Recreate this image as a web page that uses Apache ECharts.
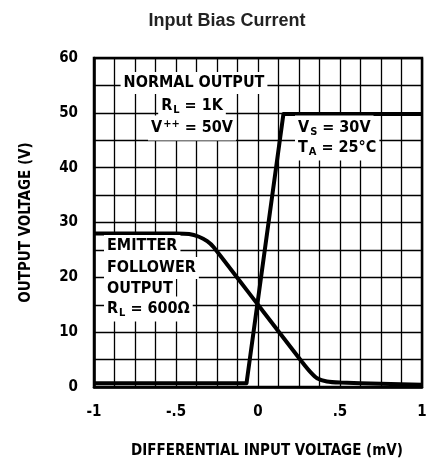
<!DOCTYPE html>
<html>
<head>
<meta charset="utf-8">
<script src="https://cdn.jsdelivr.net/npm/echarts@6/dist/echarts.min.js"></script>
<style>
html,body{margin:0;padding:0;background:#fff;}
#c{width:432px;height:464px;}
</style>
</head>
<body>
<div id="c"></div>
<script>
// Data
var titleText = 'Input Bias Current';
var xAxisName = 'DIFFERENTIAL INPUT VOLTAGE (mV)';
var yAxisName = 'OUTPUT VOLTAGE (V)';
var xTicks = [-1, -0.5, 0, 0.5, 1];
var yTicks = [0, 10, 20, 30, 40, 50, 60];

var normalX = [-1, -0.5, -0.07, 0.155, 0.5, 1];
var normalY = [0.7, 0.7, 0.7, 49.8, 49.8, 49.8];

var emitterX = [-1, -0.5, -0.42, -0.36, -0.31, -0.27, 0, 0.27, 0.32, 0.36, 0.42, 0.5, 0.75, 1];
var emitterY = [28, 28, 27.9, 27.4, 26.6, 25.5, 15, 4.5, 2.7, 1.6, 1.0, 0.8, 0.6, 0.4];

function pairs(xs, ys){ return xs.map(function(x,i){ return [x, ys[i]]; }); }

var FONT = "'DejaVu Sans Condensed', 'DejaVu Sans', sans-serif";

function fmtX(v){
  if (v === 0) return '0';
  var s = String(Math.abs(v)).replace(/^0\./, '.');
  return (v < 0 ? '-' : '') + s;
}

var chart = echarts.init(document.getElementById('c'), null, {renderer:'canvas'});

var annoRich = {
  sub: {fontSize: 11, fontWeight: 'bold', fontFamily: FONT, color: '#000', verticalAlign: 'bottom', padding: [8,0,0,1]},
  sup: {fontSize: 11, fontWeight: 'bold', fontFamily: FONT, color: '#000', verticalAlign: 'top', padding: [0,0,8,1]}
};

function anno(text, x, y, align){
  return {
    type: 'text', x: x, y: y, z: 50,
    style: {
      text: text,
      font: 'bold 16px ' + FONT,
      fill: '#000',
      align: align || 'center',
      verticalAlign: 'middle',
      backgroundColor: '#fff',
      padding: [3, 3, 3, 3],
      rich: annoRich
    }
  };
}

var option = {
  animation: false,
  backgroundColor: '#fff',
  title: {
    text: titleText,
    left: 222, top: 7, textAlign: 'center',
    textStyle: {fontFamily: "'Liberation Sans', Arial, sans-serif", fontWeight: 'bold', fontSize: 18, color: '#222'}
  },
  grid: {left: 94, top: 58, width: 328, height: 330, show: true, borderColor: '#000', borderWidth: 2.5, backgroundColor: 'transparent'},
  xAxis: {
    type: 'value', min: -1, max: 1, interval: 0.5,
    name: xAxisName, nameLocation: 'middle', nameGap: 57,
    nameTextStyle: {fontFamily: FONT, fontWeight: 'bold', fontSize: 15, color: '#000', padding: [0, 0, 0, 18]},
    axisLine: {show: true, onZero: false, lineStyle: {color: '#000', width: 2.5}},
    axisTick: {show: false},
    axisLabel: {fontFamily: FONT, fontWeight: 'bold', fontSize: 15, color: '#000', margin: 18, formatter: fmtX},
    splitLine: {show: true, lineStyle: {color: '#000', width: 1.3}},
    minorTick: {show: false, splitNumber: 4},
    minorSplitLine: {show: true, lineStyle: {color: '#000', width: 1.3}}
  },
  yAxis: {
    type: 'value', min: 0, max: 60, interval: 10,
    name: yAxisName, nameLocation: 'middle', nameGap: 60, nameRotate: 90,
    nameTextStyle: {fontFamily: FONT, fontWeight: 'bold', fontSize: 15, color: '#000'},
    axisLine: {show: true, onZero: false, lineStyle: {color: '#000', width: 2.5}},
    axisTick: {show: false},
    axisLabel: {fontFamily: FONT, fontWeight: 'bold', fontSize: 15, color: '#000', margin: 16},
    splitLine: {show: true, lineStyle: {color: '#000', width: 1.3}},
    minorTick: {show: false, splitNumber: 2},
    minorSplitLine: {show: true, lineStyle: {color: '#000', width: 1.3}}
  },
  series: [
    {name: 'Normal Output', type: 'line', data: pairs(normalX, normalY), showSymbol: false, symbol: 'none',
     lineStyle: {color: '#000', width: 4, join: 'round'}, z: 10},
    {name: 'Emitter Follower Output', type: 'line', data: pairs(emitterX, emitterY), showSymbol: false, symbol: 'none', smooth: 0.2,
     lineStyle: {color: '#000', width: 4}, z: 10}
  ],
  graphic: [
    anno('NORMAL OUTPUT', 194, 83),
    anno('R{sub|L} = 1K', 192, 106),
    anno('V{sup|++} = 50V', 192, 128),
    anno('V{sub|S} = 30V', 295, 128, 'left'),
    anno('T{sub|A} = 25°C', 295, 148, 'left'),
    anno('EMITTER', 104, 246, 'left'),
    anno('FOLLOWER', 104, 268, 'left'),
    anno('OUTPUT', 104, 289, 'left'),
    anno('R{sub|L} = 600Ω', 104, 309, 'left')
  ]
};
chart.setOption(option);
</script>
</body>
</html>
